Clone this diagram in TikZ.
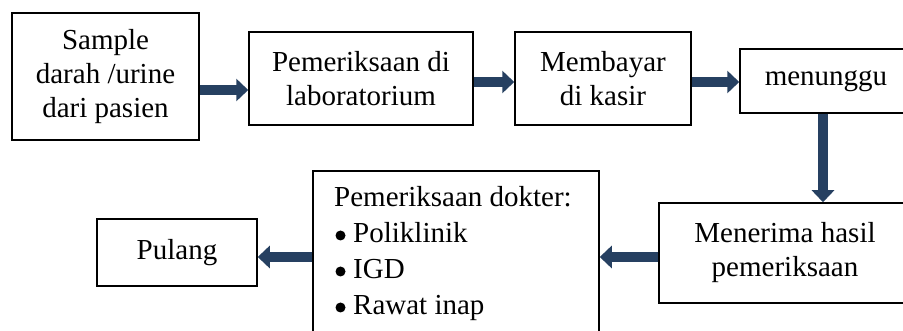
\documentclass[tikz,border=0pt]{standalone}
\usepackage{fontspec}
\setmainfont{Liberation Serif}
\usetikzlibrary{arrows.meta}
\definecolor{arrowblue}{RGB}{38,64,97}
\tikzset{
  box/.style={draw=black, line width=1.5pt, inner sep=0pt, align=center,
    font=\fontsize{29}{34}\selectfont},
  blk/.style={draw=arrowblue, line width=10.5pt,
    -{Triangle[width=22pt,length=12pt]}, arrowblue},
  bul/.style={fill=black}
}
\begin{document}
\begin{tikzpicture}[x=1pt,y=-1pt]
\useasboundingbox (0,0) rectangle (903,331);
\clip (0,0) rectangle (903,331);
\node[box, minimum width=187pt, minimum height=127pt] (b1) at (105.5,76.5) {Sample\\darah /urine\\dari pasien};
\node[box, minimum width=224pt, minimum height=93pt] (b2) at (361,78.5) {Pemeriksaan di\\laboratorium};
\node[box, minimum width=176pt, minimum height=93pt] (b3) at (603,78.5) {Membayar\\di kasir};
\node[box, minimum width=172pt, minimum height=64pt] (b4) at (826,81) {menunggu};
\node[box, minimum width=252pt, minimum height=100pt] (b5) at (785,253) {Menerima hasil\\pemeriksaan};
\node[box, minimum width=286pt, minimum height=180pt] (b6) at (456,261) {};
\node[anchor=base west, inner sep=0pt, align=left, font=\fontsize{29}{36}\selectfont] (b6t) at (334,315)
  {Pemeriksaan dokter:\\
   \hspace*{19pt}Poliklinik\\
   \hspace*{19pt}IGD\\
   \hspace*{19pt}Rawat inap};
\fill[bul] (340.5,235.5) circle (5);
\fill[bul] (340.5,271.5) circle (5);
\fill[bul] (340.5,307.5) circle (5);
\node[box, minimum width=160pt, minimum height=67pt] (b7) at (177,252.5) {Pulang};
\draw[blk] (b1.east |- 0,90) -- (b2.west |- 0,90);
\draw[blk] (b2.east |- 0,82) -- (b3.west |- 0,82);
\draw[blk] (b3.east |- 0,82) -- (b4.west |- 0,82);
\draw[blk] (b4.south -| 823,0) -- (b5.north -| 823,0);
\draw[blk] (b5.west |- 0,257) -- (b6.east |- 0,257);
\draw[blk] (b6.west |- 0,257) -- (b7.east |- 0,257);
\end{tikzpicture}
\end{document}
